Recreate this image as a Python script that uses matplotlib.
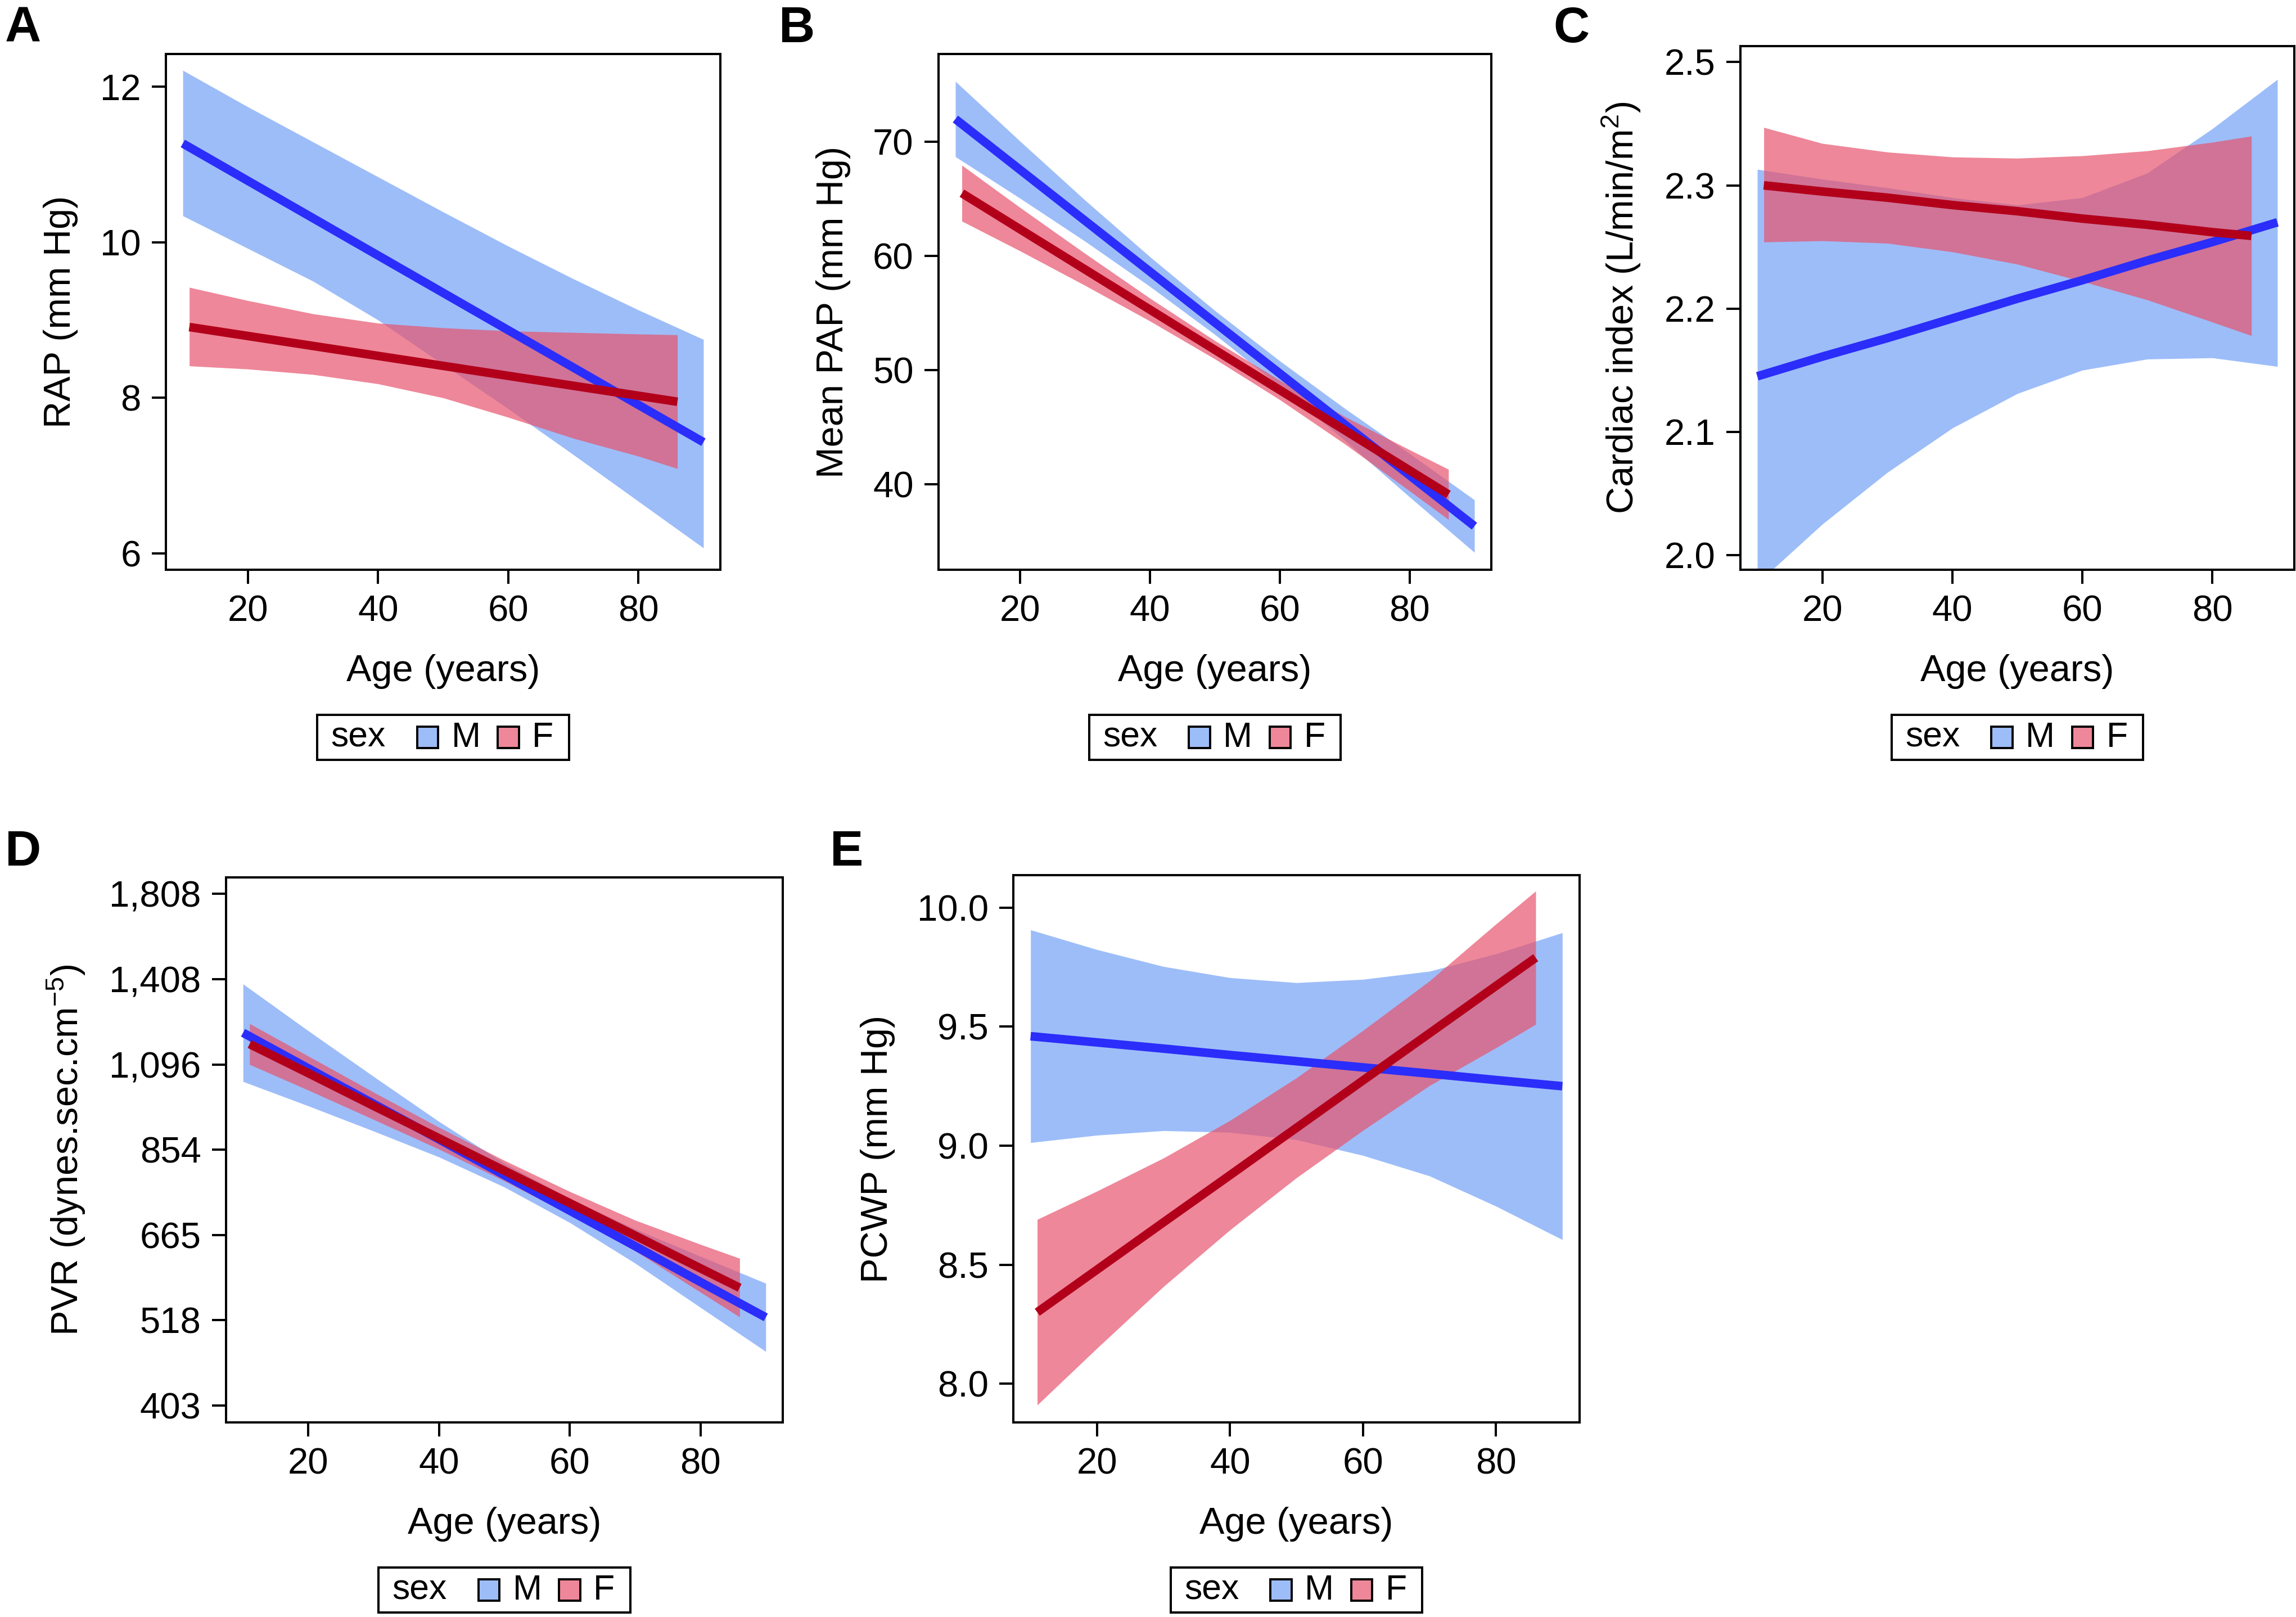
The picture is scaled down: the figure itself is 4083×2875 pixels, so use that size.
"""
Age trends of haemodynamics by sex (panels A-E)
"""
import matplotlib.pyplot as plt
from matplotlib.patches import Rectangle
from matplotlib.offsetbox import AnchoredOffsetbox, HPacker, TextArea, DrawingArea

plt.rcParams['font.family'] = ['Liberation Sans', 'DejaVu Sans']
plt.rcParams['mathtext.fontset'] = 'custom'
plt.rcParams['mathtext.rm'] = 'Liberation Sans'
plt.rcParams['mathtext.default'] = 'regular'

sexes = ['M', 'F']
age_m = [10, 20, 30, 40, 50, 60, 70, 80, 90]
age_f = [11, 20, 30, 40, 50, 60, 70, 80, 86]

# A - RAP (mm Hg)
rap_m = [11.27, 10.79, 10.31, 9.83, 9.35, 8.87, 8.39, 7.91, 7.43]
rap_m_hi = [12.21, 11.74, 11.29, 10.84, 10.39, 9.95, 9.53, 9.13, 8.75]
rap_m_lo = [10.34, 9.92, 9.50, 9.00, 8.43, 7.86, 7.27, 6.67, 6.07]
rap_f = [8.91, 8.795, 8.667, 8.539, 8.411, 8.283, 8.155, 8.027, 7.95]
rap_f_hi = [9.42, 9.25, 9.08, 8.96, 8.90, 8.86, 8.84, 8.82, 8.81]
rap_f_lo = [8.41, 8.37, 8.30, 8.18, 8.00, 7.75, 7.48, 7.25, 7.09]

# B - mean PAP (mm Hg)
pap_m = [72.0, 67.54, 63.08, 58.62, 54.16, 49.70, 45.24, 40.78, 36.32]
pap_m_hi = [75.3, 70.04, 64.88, 59.92, 55.21, 50.8, 46.64, 42.68, 38.62]
pap_m_lo = [68.7, 65.04, 61.28, 57.32, 53.11, 48.6, 43.84, 38.88, 34.02]
pap_f = [65.5, 62.33, 58.81, 55.29, 51.77, 48.25, 44.73, 41.21, 39.1]
pap_f_hi = [67.95, 64.23, 60.21, 56.29, 52.57, 49.1, 45.93, 43.01, 41.3]
pap_f_lo = [63.05, 60.43, 57.41, 54.29, 50.97, 47.4, 43.53, 39.41, 36.9]

# C - cardiac index
ci_m = [2.145, 2.161, 2.176, 2.192, 2.208, 2.223, 2.239, 2.254, 2.270]
ci_m_hi = [2.313, 2.305, 2.298, 2.290, 2.284, 2.290, 2.310, 2.346, 2.386]
ci_m_lo = [1.977, 2.025, 2.067, 2.103, 2.131, 2.150, 2.159, 2.160, 2.153]
ci_f = [2.300, 2.295, 2.290, 2.284, 2.279, 2.273, 2.268, 2.262, 2.259]
ci_f_hi = [2.347, 2.334, 2.327, 2.323, 2.322, 2.324, 2.328, 2.335, 2.340]
ci_f_lo = [2.254, 2.255, 2.253, 2.246, 2.236, 2.222, 2.207, 2.189, 2.178]

# D - PVR (dynes.sec.cm-5)
pvr_m = [1203, 1083.5, 976.5, 880, 792.3, 714.1, 643.5, 579.3, 522.2]
pvr_m_hi = [1387.7, 1209.6, 1057.8, 927.1, 820.6, 739.5, 676.5, 624.5, 577.1]
pvr_m_lo = [1042.6, 970.6, 901.4, 835.5, 765.1, 689.5, 612.1, 537.6, 472.5]
pvr_f = [1163.7, 1068.5, 970.6, 882.7, 802.7, 730.0, 663.8, 603.0, 569.6]
pvr_f_hi = [1235.7, 1123.2, 1010.3, 911.4, 827.2, 755.2, 694.4, 646.8, 620.8]
pvr_f_lo = [1096.0, 1016.4, 932.6, 854.9, 778.9, 705.6, 634.6, 562.2, 522.7]

# E - PCWP (mm Hg)
pcwp_m = [9.46, 9.434, 9.408, 9.381, 9.355, 9.329, 9.303, 9.276, 9.25]
pcwp_m_hi = [9.907, 9.824, 9.753, 9.706, 9.685, 9.699, 9.733, 9.806, 9.895]
pcwp_m_lo = [9.013, 9.044, 9.063, 9.056, 9.025, 8.959, 8.873, 8.746, 8.605]
pcwp_f = [8.30, 8.479, 8.678, 8.876, 9.075, 9.274, 9.472, 9.671, 9.79]
pcwp_f_hi = [8.69, 8.809, 8.948, 9.106, 9.285, 9.484, 9.692, 9.931, 10.07]
pcwp_f_lo = [7.91, 8.149, 8.408, 8.646, 8.865, 9.064, 9.252, 9.411, 9.51]

fill_m = '#9DBDF9'
fill_f = '#E7546E'
key_cols = ['#9DBDF9', '#EE8799']
line_m = '#2B2DFA'
line_f = '#B2001A'

W, H = 4083, 2875
fig = plt.figure(figsize=(W / 100, H / 100), dpi=100)

FS = 47
KFS = 45


def add_panel(l, t, r, b):
    return fig.add_axes([l / W, 1 - b / H, (r - l) / W, (b - t) / H])


def sex_key(ax, gap_px, height_px):
    items = []
    for lab, col in zip(sexes, key_cols):
        sq = DrawingArea(27, 27)
        sq.add_artist(Rectangle((0, 0), 27, 27, fc=col, ec='black', lw=2.8))
        items.append(HPacker(children=[sq, TextArea(lab, textprops=dict(size=KFS))],
                             sep=17, align='center', pad=0))
    keys = HPacker(children=items, sep=22, align='center', pad=0)
    inner = HPacker(children=[TextArea('sex', textprops=dict(size=KFS)), keys],
                    sep=40, align='center', pad=0)
    row = HPacker(children=[DrawingArea(10, 1), inner, DrawingArea(12, 1)],
                  sep=0, align='center', pad=0)
    box = AnchoredOffsetbox(loc='upper center', child=row, pad=0.17, borderpad=0,
                            frameon=True, bbox_to_anchor=(0.5, -gap_px / height_px),
                            bbox_transform=ax.transAxes, prop=dict(size=KFS))
    box.patch.set_linewidth(2.9)
    box.patch.set_edgecolor('black')
    ax.add_artist(box)


panels = [
    ('A', (295, 96, 1281, 1013), (9, 10), 'RAP (mm Hg)',
     (rap_m, rap_m_lo, rap_m_hi, rap_f, rap_f_lo, rap_f_hi),
     (5.79, 12.42), [6, 8, 10, 12], ['6', '8', '10', '12'], False),
    ('B', (1669, 96, 2652, 1013), (1385, 10), 'Mean PAP (mm Hg)',
     (pap_m, pap_m_lo, pap_m_hi, pap_f, pap_f_lo, pap_f_hi),
     (32.5, 77.7), [40, 50, 60, 70], ['40', '50', '60', '70'], False),
    ('C', (3095, 82, 4080, 1013), (2762, 10), 'Cardiac index (L/min/m$^{2}$)',
     (ci_m, ci_m_lo, ci_m_hi, ci_f, ci_f_lo, ci_f_hi),
     (1.988, 2.413), [2.0, 2.1, 2.2, 2.3, 2.4], ['2.0', '2.1', '2.2', '2.3', '2.5'], False),
    ('D', (402, 1560, 1392, 2529), (9, 1474), 'PVR (dynes.sec.cm$^{-5}$)',
     (pvr_m, pvr_m_lo, pvr_m_hi, pvr_f, pvr_f_lo, pvr_f_hi),
     (383.8, 1897), [403, 518, 665, 854, 1096, 1408, 1808],
     ['403', '518', '665', '854', '1,096', '1,408', '1,808'], True),
    ('E', (1802, 1556, 2809, 2529), (1476, 1474), 'PCWP (mm Hg)',
     (pcwp_m, pcwp_m_lo, pcwp_m_hi, pcwp_f, pcwp_f_lo, pcwp_f_hi),
     (7.837, 10.137), [8.0, 8.5, 9.0, 9.5, 10.0], ['8.0', '8.5', '9.0', '9.5', '10.0'], False),
]

for letter, box, lpos, ylab, d, ylim, yt, ytl, logy in panels:
    ax = add_panel(*box)
    ym, ym_lo, ym_hi, yf, yf_lo, yf_hi = d
    ax.fill_between(age_m, ym_lo, ym_hi, color=fill_m, lw=0)
    ax.fill_between(age_f, yf_lo, yf_hi, color=fill_f, alpha=0.7, lw=0)
    ax.plot(age_m, ym, color=line_m, lw=11, solid_capstyle='butt')
    ax.plot(age_f, yf, color=line_f, lw=11, solid_capstyle='butt')
    if logy:
        ax.set_yscale('log')
        ax.minorticks_off()
    ax.set_xlim(7.4, 92.6)
    ax.set_ylim(*ylim)
    ax.set_xticks([20, 40, 60, 80])
    ax.set_yticks(yt)
    ax.set_yticklabels(ytl)
    ax.tick_params(labelsize=FS, length=18, width=2.9, pad=14)
    for sp in ax.spines.values():
        sp.set_linewidth(2.9)
    ax.set_xlabel('Age (years)', fontsize=FS + 1, labelpad=33)
    ax.set_ylabel(ylab, fontsize=FS + 1, labelpad=28)
    gap = 258 if box[1] < 500 else 258
    sex_key(ax, gap, box[3] - box[1])
    fig.text(lpos[0] / W, 1 - lpos[1] / H, letter, fontsize=64, fontweight='bold',
             ha='left', va='top')

plt.savefig('out.png', dpi=100)
